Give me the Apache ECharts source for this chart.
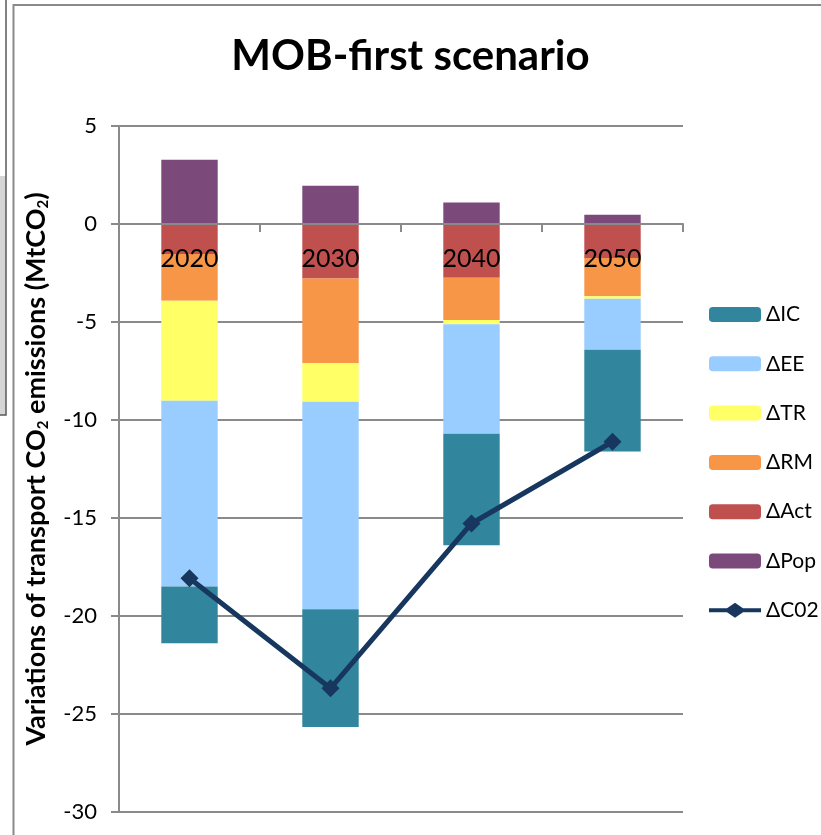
<!DOCTYPE html>
<html>
<head>
<meta charset="utf-8">
<title>MOB-first scenario</title>
<script src="https://cdn.jsdelivr.net/npm/echarts@6/dist/echarts.min.js"></script>
<style>
  html, body { margin: 0; padding: 0; background: #ffffff; }
  #chart { width: 821px; height: 835px; }
</style>
</head>
<body>
<div id="chart"></div>
<script>
// Decomposition of transport CO2 emission variations (MtCO2), MOB-first scenario
const years = ['2020', '2030', '2040', '2050'];

const dPop = [3.28, 1.95, 1.10, 0.47];
const dAct = [-1.53, -2.78, -2.74, -1.74];
const dRM  = [-2.39, -4.32, -2.16, -1.95];
const dTR  = [-5.10, -1.97, -0.22, -0.12];
const dEE  = [-9.48, -10.58, -5.58, -2.61];
const dIC  = [-2.89, -6.01, -5.69, -5.19];
const dCO2 = [-18.07, -23.69, -15.28, -11.11];

const yTicks = { min: -30, max: 5, step: 5 };

const FONT = 'Lato';
const GRID_GREY = '#8a8a8a';

const colors = {
  pop: '#7b4a7b',
  act: '#c0504d',
  rm:  '#f79646',
  tr:  '#ffff66',
  ee:  '#99ccff',
  ic:  '#31859c',
  co2: '#17375e'
};

// plot box inside the 821 x 835 canvas
const gridBox = { left: 119, right: 138, top: 126, bottom: 23 };
const plotHeight = 835 - gridBox.top - gridBox.bottom;
// the category axis is drawn along the zero line, measured down from the top edge
const zeroFromTop = plotHeight * yTicks.max / (yTicks.max - yTicks.min);

// legend key for the total: thick line with a diamond in the middle
const lineDiamondIcon = 'path://M0,5.5L18,5.5L26,0L34,5.5L52,5.5L52,9.5L34,9.5L26,15L18,9.5L0,9.5Z';

function barSeries(name, data, color) {
  return {
    name: name,
    type: 'bar',
    stack: 'decomp',
    barWidth: '40%',
    data: data,
    itemStyle: { color: color },
    emphasis: { disabled: true }
  };
}

const chart = echarts.init(document.getElementById('chart'), null, { renderer: 'canvas' });

chart.setOption({
  backgroundColor: '#ffffff',
  animation: false,
  title: {
    text: 'MOB-first scenario',
    left: 'center',
    top: 30,
    textStyle: { fontFamily: FONT, fontSize: 42, fontWeight: 'bold', color: '#000000' }
  },
  grid: Object.assign({ containLabel: false }, gridBox),
  legend: {
    orient: 'vertical',
    left: 704,
    top: 299,
    itemWidth: 52,
    itemHeight: 15,
    itemGap: 28.3,
    selectedMode: false,
    data: [
      'ΔIC', 'ΔEE', 'ΔTR', 'ΔRM', 'ΔAct', 'ΔPop',
      { name: 'ΔC02', icon: lineDiamondIcon, itemStyle: { color: colors.co2 } }
    ],
    textStyle: { fontFamily: FONT, fontSize: 21, color: '#000000' }
  },
  xAxis: {
    type: 'category',
    data: years,
    position: 'top',
    offset: -zeroFromTop,
    axisLine: { onZero: false, lineStyle: { color: GRID_GREY, width: 2 } },
    axisTick: { show: true, inside: true, alignWithLabel: false, length: 8, lineStyle: { color: GRID_GREY, width: 2 } },
    axisLabel: { inside: true, margin: 22, fontFamily: FONT, fontSize: 25, color: '#000000' },
    splitLine: { show: false },
    z: 10
  },
  yAxis: {
    type: 'value',
    min: yTicks.min,
    max: yTicks.max,
    interval: yTicks.step,
    name: '{b|Variations of transport CO}{s|2}{b| emissions (MtCO}{s|2}{b|)}',
    nameLocation: 'middle',
    nameRotate: 90,
    nameGap: 68,
    nameTextStyle: {
      rich: {
        b: { fontFamily: FONT, fontSize: 27, fontWeight: 'bold', color: '#000000', lineHeight: 29 },
        s: { fontFamily: FONT, fontSize: 15, fontWeight: 'bold', color: '#000000', verticalAlign: 'bottom', lineHeight: 14 }
      }
    },
    axisLine: { show: true, lineStyle: { color: GRID_GREY, width: 2 } },
    axisTick: { show: true, length: 8, lineStyle: { color: GRID_GREY, width: 2 } },
    axisLabel: { margin: 22, fontFamily: FONT, fontSize: 22, color: '#000000' },
    splitLine: { show: true, lineStyle: { color: GRID_GREY, width: 2 } }
  },
  series: [
    barSeries('ΔPop', dPop, colors.pop),
    barSeries('ΔAct', dAct, colors.act),
    barSeries('ΔRM', dRM, colors.rm),
    barSeries('ΔTR', dTR, colors.tr),
    barSeries('ΔEE', dEE, colors.ee),
    barSeries('ΔIC', dIC, colors.ic),
    {
      name: 'ΔC02',
      type: 'line',
      data: dCO2,
      symbol: 'diamond',
      symbolSize: 18,
      lineStyle: { color: colors.co2, width: 5 },
      itemStyle: { color: colors.co2 },
      z: 5,
      emphasis: { disabled: true }
    }
  ],
  graphic: [
    // frame of the chart box
    {
      type: 'polyline',
      shape: { points: [[13.5, 835], [13.5, 5], [821, 5]] },
      style: { stroke: GRID_GREY, lineWidth: 2, fill: null },
      silent: true
    },
    // edge of the neighbouring panel
    {
      type: 'rect',
      shape: { x: 0, y: 176, width: 6, height: 239 },
      style: { fill: '#d6d6d6' },
      silent: true
    },
    {
      type: 'polyline',
      shape: { points: [[6, 0], [6, 415], [0, 415]] },
      style: { stroke: '#5a5a5a', lineWidth: 1.5, fill: null },
      silent: true
    }
  ]
});
</script>
</body>
</html>
